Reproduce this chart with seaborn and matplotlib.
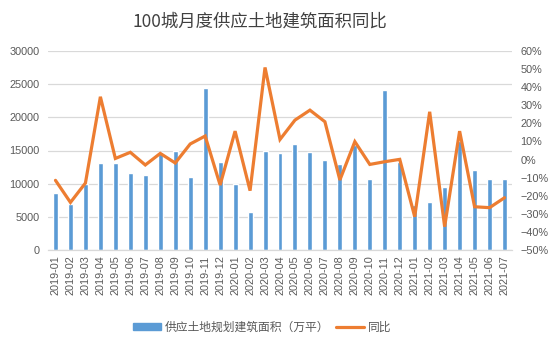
import matplotlib
matplotlib.use("Agg")
import matplotlib.pyplot as plt
import seaborn as sns
import pandas as pd
from matplotlib.patches import Patch
from matplotlib.lines import Line2D

months = ["2019-01", "2019-02", "2019-03", "2019-04", "2019-05", "2019-06", "2019-07",
          "2019-08", "2019-09", "2019-10", "2019-11", "2019-12", "2020-01", "2020-02",
          "2020-03", "2020-04", "2020-05", "2020-06", "2020-07", "2020-08", "2020-09",
          "2020-10", "2020-11", "2020-12", "2021-01", "2021-02", "2021-03", "2021-04",
          "2021-05", "2021-06", "2021-07"]
area = [8600, 6900, 10000, 13100, 13100, 11600, 11300,
        14700, 14900, 11000, 24400, 13250, 10000, 5750,
        14900, 14600, 16000, 14800, 13600, 13000, 15800,
        10700, 24100, 13300, 6800, 7250, 9500, 16500,
        12000, 10700, 10700]
yoy = [-11.5, -23.7, -13.0, 34.7, 0.6, 4.0, -3.0,
       3.4, -1.9, 8.6, 13.0, -14.1, 15.7, -17.2,
       50.9, 11.1, 21.8, 27.3, 20.9, -11.3, 9.9,
       -2.7, -1.2, 0.1, -31.6, 26.4, -37.1, 15.7,
       -26.1, -26.6, -21.1]
left_ticks = [0, 5000, 10000, 15000, 20000, 25000, 30000]
right_ticks = [-50, -40, -30, -20, -10, 0, 10, 20, 30, 40, 50, 60]
title = "100城月度供应土地建筑面积同比"
bar_label = "供应土地规划建筑面积（万平）"
line_label = "同比"

sns.set_theme(style="white")
plt.rcParams["font.family"] = ["Liberation Sans", "Noto Sans CJK SC", "DejaVu Sans"]
plt.rcParams["axes.unicode_minus"] = True

BAR = "#5B9BD5"
LINE = "#ED7D31"
TXT = "#595959"
GRID = "#D9D9D9"

df = pd.DataFrame({"month": months, "area": area, "yoy": yoy})

fig = plt.figure(figsize=(5.54, 3.46), dpi=100)
ax = fig.add_axes([48 / 554, 1 - 250 / 346, 464 / 554, 199 / 346])
sns.barplot(data=df, x="month", y="area", color=BAR, width=0.33, ax=ax,
            saturation=1, order=months)
ax.set_ylim(0, 30000)
ax.set_yticks(left_ticks)
ax.set_yticklabels([str(v) for v in left_ticks])
ax.set_xlim(-0.5, len(months) - 0.5)
ax.grid(axis="y", color=GRID, linewidth=0.9)
ax.set_axisbelow(True)
for s in ["top", "right", "left"]:
    ax.spines[s].set_visible(False)
ax.spines["bottom"].set_color(GRID)
ax.spines["bottom"].set_linewidth(0.9)
ax.set_xlabel("")
ax.set_ylabel("")
ax.tick_params(axis="y", colors=TXT, labelsize=7.8, length=0, pad=6)
ax.tick_params(axis="x", colors=TXT, labelsize=7.8, length=0, pad=4)
ax.set_xticks(range(len(months)))
ax.set_xticklabels(months, rotation=90)

ax2 = ax.twinx()
ax2.plot(range(len(months)), yoy, color=LINE, linewidth=2.3, solid_joinstyle="miter")
ax2.set_ylim(-50, 60)
ax2.set_yticks(right_ticks)
ax2.set_yticklabels([(f"{v}%" if v >= 0 else f"\u2212{-v}%") for v in right_ticks])
for s in ["top", "right", "left", "bottom"]:
    ax2.spines[s].set_visible(False)
ax2.tick_params(axis="y", colors=TXT, labelsize=7.8, length=0, pad=6)
ax2.grid(False)
ax2.set_xlim(-0.5, len(months) - 0.5)

fig.text(260 / 554, 1 - 22 / 346, title, ha="center", va="center",
         fontsize=12.5, color="#404040", family=["Noto Sans CJK SC"])

handles = [Patch(facecolor=BAR, edgecolor=BAR, label=bar_label),
           Line2D([0], [0], color=LINE, linewidth=2.3, label=line_label)]
leg = fig.legend(handles=handles, loc="center", bbox_to_anchor=(262 / 554, 1 - 327 / 346),
                 ncol=2, frameon=False, handlelength=2.4, handleheight=0.6,
                 columnspacing=0.6, handletextpad=0.3,
                 prop={"family": ["Noto Sans CJK SC"], "size": 8.5})
for t in leg.get_texts():
    t.set_color(TXT)

fig.savefig("out.png", dpi=100)
